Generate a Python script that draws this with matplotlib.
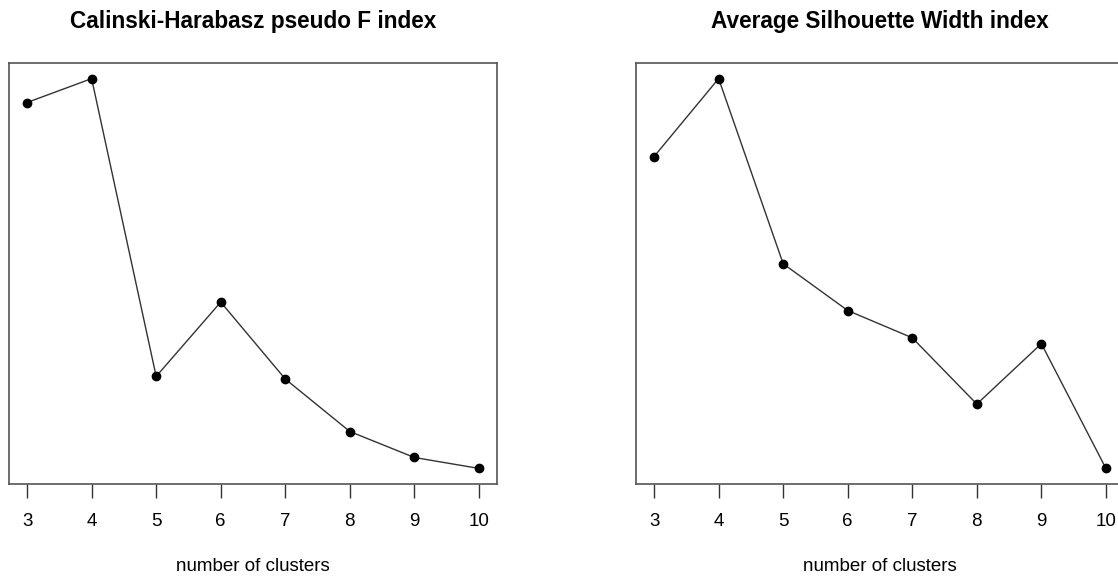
import matplotlib.pyplot as plt

plt.rcParams['font.family'] = ['Liberation Sans', 'DejaVu Sans']

# nombre de clusters
clusters = [3, 4, 5, 6, 7, 8, 9, 10]

# indices (valeurs approximatives)
calinski = [95.4, 100.0, 42.7, 57.0, 42.2, 32.1, 27.1, 25.0]
silhouette = [0.460, 0.500, 0.405, 0.381, 0.367, 0.333, 0.364, 0.300]

titles = ['Calinski-Harabasz pseudo F index', 'Average Silhouette Width index']
xlabel = 'number of clusters'

W, H = 1118, 577
fig = plt.figure(figsize=(W / 100, H / 100), dpi=100)

# positions des boites en pixels (gauche, haut, droite, bas)
boxes = [(9, 63, 497, 484), (636, 63, 1124, 484)]


def plot_index(ax, values, title):
    ax.plot(clusters, values, color='#333333', linewidth=1.0, zorder=2)
    ax.scatter(clusters, values, color='black', s=36, zorder=3)
    ax.set_xlim(3 - 0.28, 10 + 0.28)
    span = max(values) - min(values)
    ax.set_ylim(min(values) - 0.04 * span, max(values) + 0.04 * span)
    ax.set_yticks([])
    ax.set_xticks(clusters)
    ax.tick_params(axis='x', length=10, width=1, pad=11, labelsize=13.5,
                   color='#333333')
    for sp in ax.spines.values():
        sp.set_color('#555555')
        sp.set_linewidth(1.2)
    ax.set_title(title, fontsize=16.3, fontweight='bold', pad=25)
    ax.set_xlabel(xlabel, fontsize=13.5, labelpad=20)


for (l, t, r, b), values, title in zip(boxes, [calinski, silhouette], titles):
    ax = fig.add_axes([l / W, (H - b) / H, (r - l) / W, (b - t) / H])
    plot_index(ax, values, title)

fig.savefig('out.png', dpi=100)
